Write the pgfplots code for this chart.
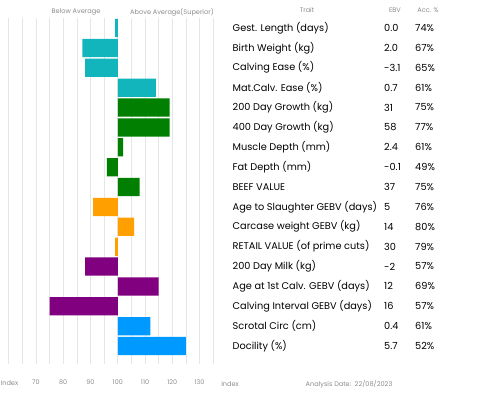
\documentclass[border=0pt]{standalone}
\usepackage{pgfplots}
\pgfplotsset{compat=1.18}
\usepackage{pgfplotstable}
\usepackage{fontspec}
\setmainfont{Poppins}
\definecolor{cteal}{HTML}{13B5BC}
\definecolor{cgreen}{HTML}{007F00}
\definecolor{corange}{HTML}{FFA000}
\definecolor{cpurple}{HTML}{800080}
\definecolor{cblue}{HTML}{0099FF}
\definecolor{cgrid}{HTML}{E6E6E6}
\definecolor{ctxt}{HTML}{8C8C8C}
% row, index value
\pgfplotstableread{
row idx
1 99
2 87
3 88
4 114
}\tteal
\pgfplotstableread{
row idx
5 119
6 119
7 102
8 96
9 108
}\tgreen
\pgfplotstableread{
row idx
10 91
11 106
12 99
}\torange
\pgfplotstableread{
row idx
13 88
14 115
15 75
}\tpurple
\pgfplotstableread{
row idx
16 112
17 125
}\tblue
\newcommand{\rowtxt}[4]{%
  \pgfmathsetmacro{\yy}{397-28-(#1-1)*19.875}%
  \node[anchor=west,inner sep=0pt] at (232.5bp,\yy bp) {#2};%
  \node[anchor=west,inner sep=0pt] at (384bp,\yy bp) {#3};%
  \node[anchor=west,inner sep=0pt] at (415bp,\yy bp) {#4};%
}
\begin{document}
\begin{tikzpicture}[x=1bp,y=1bp]
\path (0,0) rectangle (482,397);
\begin{axis}[
  at={(1.85bp,33.1bp)}, anchor=south west,
  scale only axis, width=218.2bp, height=345.8bp,
  xmin=-42.5, xmax=37.5, ymin=0.5, ymax=17.9, y dir=reverse,
  axis line style={draw=none},
  xtick={-40,-30,...,30}, xticklabels={,70,80,90,100,110,120,130},
  minor xtick={-35,-25,...,35},
  xmajorgrids, xminorgrids,
  major grid style={cgrid, line width=0.6pt},
  minor grid style={cgrid, line width=0.6pt},
  ytick=\empty, major tick length=0pt, minor tick length=0pt,
  tick label style={font=\fontsize{6.4}{7}\selectfont, text=ctxt},
  xticklabel style={yshift=-12bp},
  xbar, bar shift=0pt, bar width=18.3bp,
  clip=false,
]
\addplot[fill=cteal, draw=none] table[x expr=\thisrow{idx}-100, y=row] {\tteal};
\addplot[fill=cgreen, draw=none] table[x expr=\thisrow{idx}-100, y=row] {\tgreen};
\addplot[fill=corange, draw=none] table[x expr=\thisrow{idx}-100, y=row] {\torange};
\addplot[fill=cpurple, draw=none] table[x expr=\thisrow{idx}-100, y=row] {\tpurple};
\addplot[fill=cblue, draw=none] table[x expr=\thisrow{idx}-100, y=row] {\tblue};
\end{axis}
\begin{scope}[every node/.style={font=\fontsize{6.6}{7}\selectfont, text=ctxt, inner sep=0pt}]
\node at (76,385) {Below Average};
\node at (172,385) {Above Average(Superior)};
\node at (307,387) {Trait};
\node at (395,387) {EBV};
\node at (428,387) {Acc. \%};
\node[anchor=west] at (0.5,13.5) {Index};
\node at (230,13) {Index};
\node at (349,13) {Analysis Date:\ \ 22/08/2023};
\end{scope}
\begin{scope}[every node/.style={font=\fontsize{9.8}{11}\selectfont, text=black}]
\rowtxt{1}{Gest. Length (days)}{0.0}{74\%}
\rowtxt{2}{Birth Weight (kg)}{2.0}{67\%}
\rowtxt{3}{Calving Ease (\%)}{-3.1}{65\%}
\rowtxt{4}{Mat.Calv. Ease (\%)}{0.7}{61\%}
\rowtxt{5}{200 Day Growth (kg)}{31}{75\%}
\rowtxt{6}{400 Day Growth (kg)}{58}{77\%}
\rowtxt{7}{Muscle Depth (mm)}{2.4}{61\%}
\rowtxt{8}{Fat Depth (mm)}{-0.1}{49\%}
\rowtxt{9}{BEEF VALUE}{37}{75\%}
\rowtxt{10}{Age to Slaughter GEBV (days)}{5}{76\%}
\rowtxt{11}{Carcase weight GEBV (kg)}{14}{80\%}
\rowtxt{12}{RETAIL VALUE (of prime cuts)}{30}{79\%}
\rowtxt{13}{200 Day Milk (kg)}{-2}{57\%}
\rowtxt{14}{Age at 1st Calv. GEBV (days)}{12}{69\%}
\rowtxt{15}{Calving Interval GEBV (days)}{16}{57\%}
\rowtxt{16}{Scrotal Circ (cm)}{0.4}{61\%}
\rowtxt{17}{Docility (\%)}{5.7}{52\%}
\end{scope}
\end{tikzpicture}
\end{document}
